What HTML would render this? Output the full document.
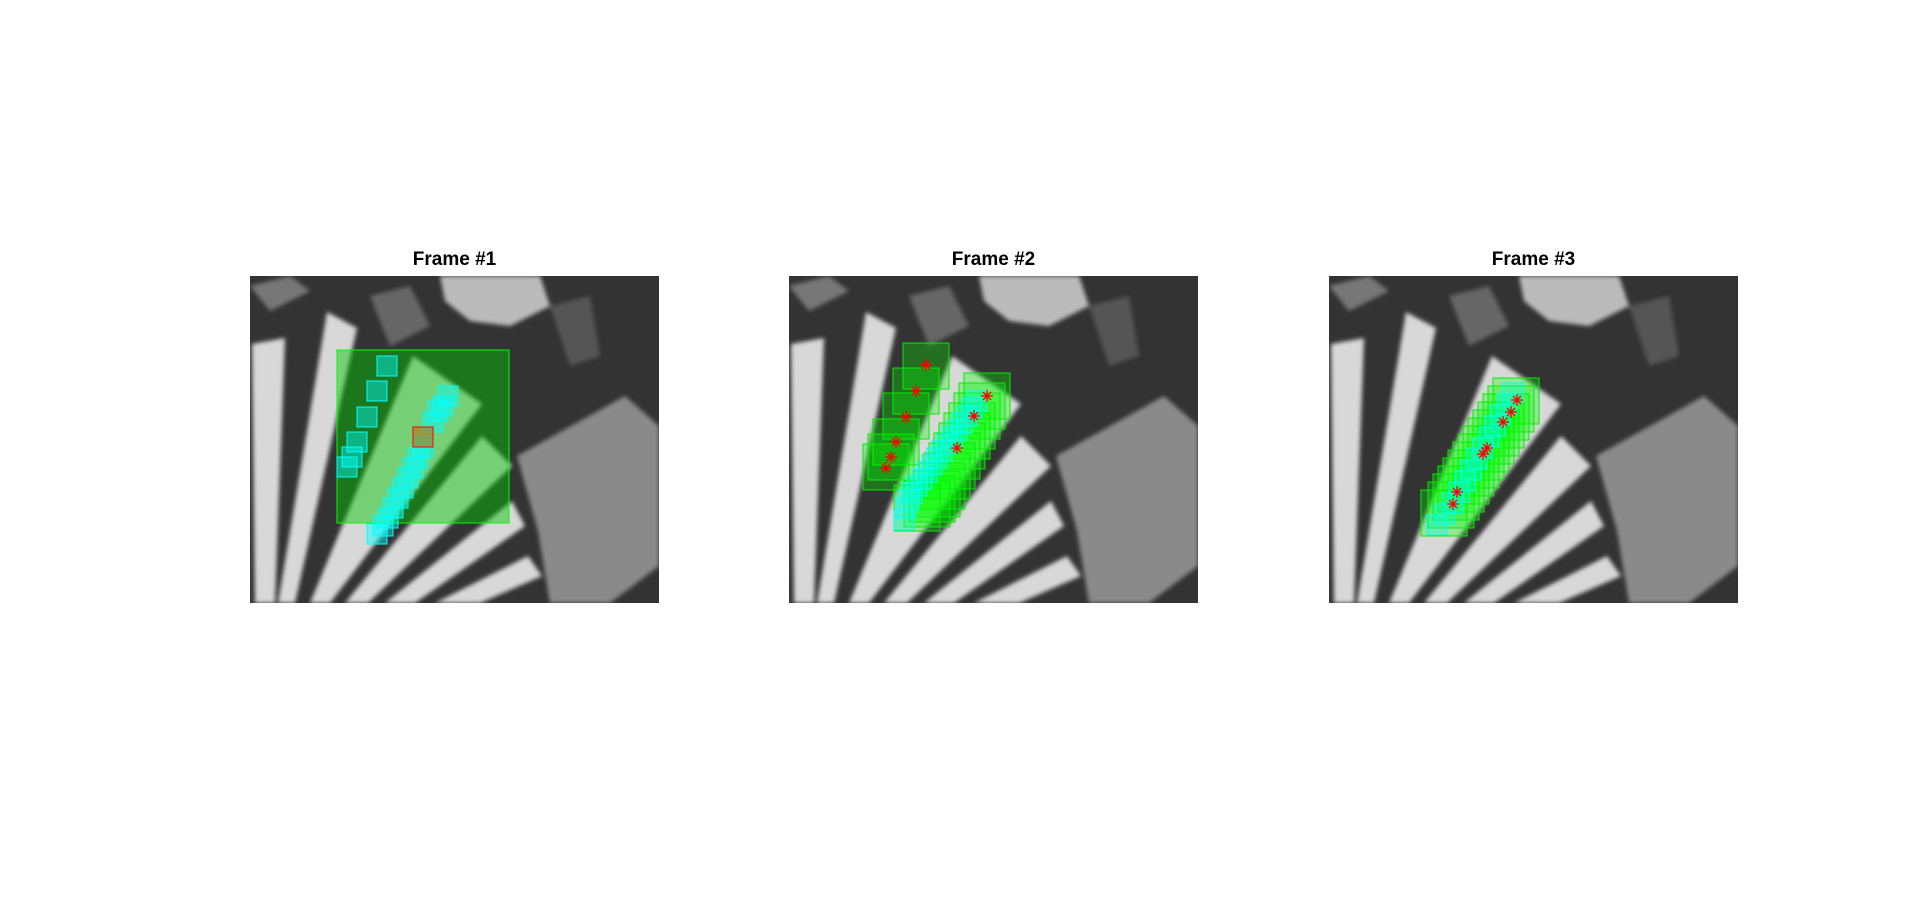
<!DOCTYPE html>
<html><head><meta charset="utf-8"><style>
html,body{margin:0;padding:0;background:#fff;width:1920px;height:911px;overflow:hidden}
.t{position:absolute;font-family:"Liberation Sans",sans-serif;font-weight:bold;font-size:19px;color:#000;text-align:center;width:409px}
</style></head><body>
<div class="t" style="left:250px;top:249px">Frame #1</div>
<div class="t" style="left:789px;top:249px">Frame #2</div>
<div class="t" style="left:1329px;top:249px">Frame #3</div>
<svg id="svg" width="1920" height="911" style="position:absolute;left:0;top:0" xmlns="http://www.w3.org/2000/svg">
<defs>
<filter id="blur"><feGaussianBlur stdDeviation="2"/></filter>
<symbol id="bg" viewBox="0 0 409 327" width="409" height="327">
<rect width="409" height="327" fill="#333"/>
<g filter="url(#blur)">
<path d="M0,10 L40,0 L60,15 L20,35 Z" fill="#777"/>
<path d="M190,0 L290,0 L300,30 L260,50 L220,45 L195,25 Z" fill="#bbb"/>
<path d="M120,20 L160,10 L180,50 L140,70 Z" fill="#666"/>
<path d="M300,30 L340,20 L350,80 L320,90 Z" fill="#555"/>
<path d="M2,68 L35,62 L25,327 L5,327 Z" fill="#d8d8d8"/>
<path d="M77,36 L107,52 L45,327 L28,327 Z" fill="#d8d8d8"/>
<path d="M163,80 L232,128 L80,327 L60,327 Z" fill="#d8d8d8"/>
<path d="M232,160 L262,190 L118,327 L95,327 Z" fill="#d8d8d8"/>
<path d="M262,225 L275,250 L165,327 L135,327 Z" fill="#d8d8d8"/>
<path d="M278,280 L292,300 L230,327 L185,327 Z" fill="#d8d8d8"/>
<path d="M267,180 L375,120 L409,150 L409,290 L360,327 L300,327 L288,255 Z" fill="#8a8a8a"/>
</g>
</symbol>
</defs>
<use href="#bg" x="250" y="276"/>
<use href="#bg" x="789" y="276"/>
<use href="#bg" x="1329" y="276"/>
<g id="p1" transform="translate(250,276)"></g>
<g id="p2" transform="translate(789,276)"></g>
<g id="p3" transform="translate(1329,276)"></g>
</svg>
<script>
const p1Big=[87,74,172,173];
const p1Cyan=[[127,80],[117,105],[107,131],[97,156],[92,171],[87,181],[188,110],[183,120],[178,125],[173,136],[163,161],[158,172],[153,182],[148,192],[143,202],[138,212],[133,222],[128,232],[123,240],[117,248]];
const p1Red=[[163,151]];
const p2Green=[[114,67],[104,92],[94,117],[84,143],[79,158],[74,168],[175,97],[170,107],[165,117],[160,127],[155,137],[150,147],[145,157],[140,167],[135,177],[130,187],[125,195],[120,200],[115,205],[105,209]];
const p2Cyan=[[178,115],[173,122],[168,130],[163,137],[158,144],[153,151],[148,158],[143,165],[138,172],[133,179],[128,186],[123,193],[118,200],[113,207],[110,214],[107,222],[105,234]];
const p2Stars=[[137,89],[127,115],[117,141],[107,166],[102,181],[97,192],[198,120],[185,140],[168,172]];
const p3Green=[[164,102],[159,110],[154,118],[149,126],[144,134],[139,142],[134,150],[129,158],[124,166],[119,174],[114,182],[109,190],[104,198],[99,206],[92,214]];
const p3Cyan=[[174,107],[168,118],[162,129],[156,140],[150,151],[144,162],[138,173],[132,184],[126,195],[120,206],[114,217],[106,228],[98,239]];
const p3Stars=[[188,124],[182,136],[174,146],[158,172],[154,178],[128,216],[124,228]];
const NS='http://www.w3.org/2000/svg';
function rect(g,x,y,w,h,fill,op,stroke){
  const r=document.createElementNS(NS,'rect');
  r.setAttribute('x',x);r.setAttribute('y',y);r.setAttribute('width',w);r.setAttribute('height',h);
  r.setAttribute('fill',fill);r.setAttribute('fill-opacity',op);r.setAttribute('stroke',stroke);r.setAttribute('stroke-width',1);
  
  
  g.appendChild(r);
}
function star(g,x,y){
  const s=document.createElementNS(NS,'g');
  
  
  const segs=[[-6,0,6,0],[0,-6,0,6],[-4,-4,4,4],[-4,4,4,-4]];
  for(const q of segs){const l=document.createElementNS(NS,'line');
    l.setAttribute('x1',x+q[0]);l.setAttribute('y1',y+q[1]);l.setAttribute('x2',x+q[2]);l.setAttribute('y2',y+q[3]);
    l.setAttribute('stroke','#f00');l.setAttribute('stroke-width',1.3);s.appendChild(l);}
  g.appendChild(s);
}
const g1=document.getElementById('p1'),g2=document.getElementById('p2'),g3=document.getElementById('p3');
rect(g1,p1Big[0],p1Big[1],p1Big[2],p1Big[3],'#00c800',0.45,'#00ff00');
p1Cyan.forEach(p=>rect(g1,p[0],p[1],20,20,'#00ffff',0.45,'#00ffff'));
p1Red.forEach(p=>rect(g1,p[0],p[1],20,20,'#c06000',0.5,'#ff0000'));
p2Green.forEach(p=>rect(g2,p[0],p[1],46,46,'#00ff00',0.3,'#00ee00'));
p2Cyan.forEach(p=>rect(g2,p[0],p[1],20,20,'#00ffff',0.3,'#00ffff'));
p2Stars.forEach(p=>star(g2,p[0],p[1]));
p3Green.forEach(p=>rect(g3,p[0],p[1],46,46,'#00ff00',0.3,'#00ee00'));
p3Cyan.forEach(p=>rect(g3,p[0],p[1],20,20,'#00ffff',0.3,'#00ffff'));
p3Stars.forEach(p=>star(g3,p[0],p[1]));
</script>
</body></html>
